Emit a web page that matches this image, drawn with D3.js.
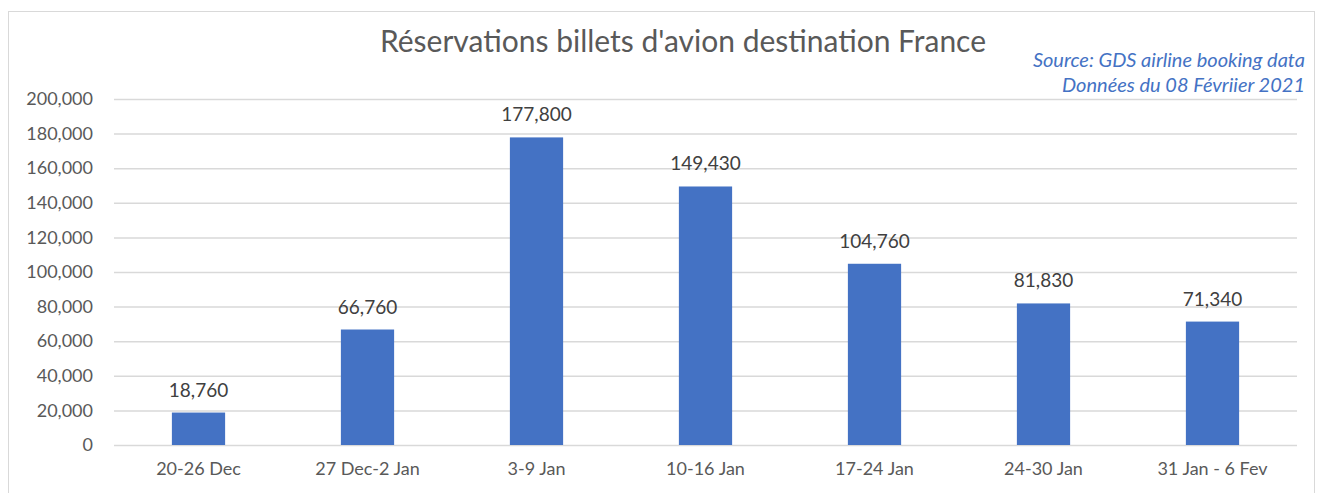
<!DOCTYPE html>
<html>
<head>
<meta charset="utf-8">
<script src="https://cdn.jsdelivr.net/npm/d3@7"></script>
<style>
  body { margin: 0; background: #fff; }
  svg, svg text { font-family: Lato, "Open Sans", sans-serif; }
</style>
</head>
<body>
<svg width="1323" height="493"></svg>
<script>
var weeks = ['20-26 Dec', '27 Dec-2 Jan', '3-9 Jan', '10-16 Jan', '17-24 Jan', '24-30 Jan', '31 Jan - 6 Fev'];
var bookings = [18760, 66760, 177800, 149430, 104760, 81830, 71340];
var yTicks = [0, 20000, 40000, 60000, 80000, 100000, 120000, 140000, 160000, 180000, 200000];

var title = "Réservations billets d'avion destination France";
var sourceLines = ["Source: GDS airline booking data", "Données du 08 Févriier 2021"];

var svg = d3.select("svg");
var margin = { top: 99, right: 26, bottom: 48, left: 114 };
var width = +svg.attr("width") - margin.left - margin.right;
var height = 445 - margin.top;

// chart border
svg.append("rect")
    .attr("x", 8.5).attr("y", 11.5)
    .attr("width", 1306).attr("height", 490)
    .attr("fill", "#fff")
    .attr("stroke", "#d9d9d9");

var g = svg.append("g").attr("transform", "translate(" + margin.left + "," + margin.top + ")");

var x = d3.scaleBand().domain(weeks).range([0, width]).paddingInner(0.685).paddingOuter(0.3425);
var y = d3.scaleLinear().domain([0, 200000]).range([height, 0]);

// gridlines + y labels
g.append("g")
    .call(d3.axisLeft(y).tickValues(yTicks).tickSize(-width).tickPadding(21).tickFormat(d3.format(",")))
    .attr("font-family", null)
    .call(function (a) { a.select(".domain").remove(); })
    .call(function (a) {
        a.selectAll("line").attr("stroke", "#d9d9d9").attr("stroke-width", 1.5);
        a.selectAll("text").attr("fill", "#595959").style("font-size", "18px");
    });

// x labels
g.append("g")
    .attr("transform", "translate(0," + height + ")")
    .call(d3.axisBottom(x).tickSize(0).tickPadding(17))
    .attr("font-family", null)
    .call(function (a) { a.select(".domain").remove(); })
    .call(function (a) {
        a.selectAll("text").attr("fill", "#595959").style("font-size", "18px");
    });

var data = weeks.map(function (w, i) { return { week: w, value: bookings[i] }; });

g.selectAll(".bar").data(data).enter().append("rect")
    .attr("class", "bar")
    .attr("x", function (d) { return x(d.week); })
    .attr("y", function (d) { return y(d.value); })
    .attr("width", x.bandwidth())
    .attr("height", function (d) { return height - y(d.value); })
    .attr("fill", "#4472c4");

g.selectAll(".lbl").data(data).enter().append("text")
    .attr("class", "lbl")
    .attr("x", function (d) { return x(d.week) + x.bandwidth() / 2; })
    .attr("y", function (d) { return y(d.value) - 16; })
    .attr("text-anchor", "middle")
    .attr("fill", "#404040")
    .style("font-size", "19px")
    .text(function (d) { return d3.format(",")(d.value); });

svg.append("text")
    .attr("x", 683).attr("y", 52)
    .attr("text-anchor", "middle")
    .attr("fill", "#595959")
    .style("font-size", "30px")
    .text(title);

svg.selectAll(".src").data(sourceLines).enter().append("text")
    .attr("class", "src")
    .attr("x", 1305)
    .attr("y", function (d, i) { return 67 + i * 25; })
    .attr("text-anchor", "end")
    .attr("fill", "#4472c4")
    .style("font-size", "20px")
    .style("font-style", "italic")
    .text(function (d) { return d; });
</script>
</body>
</html>
